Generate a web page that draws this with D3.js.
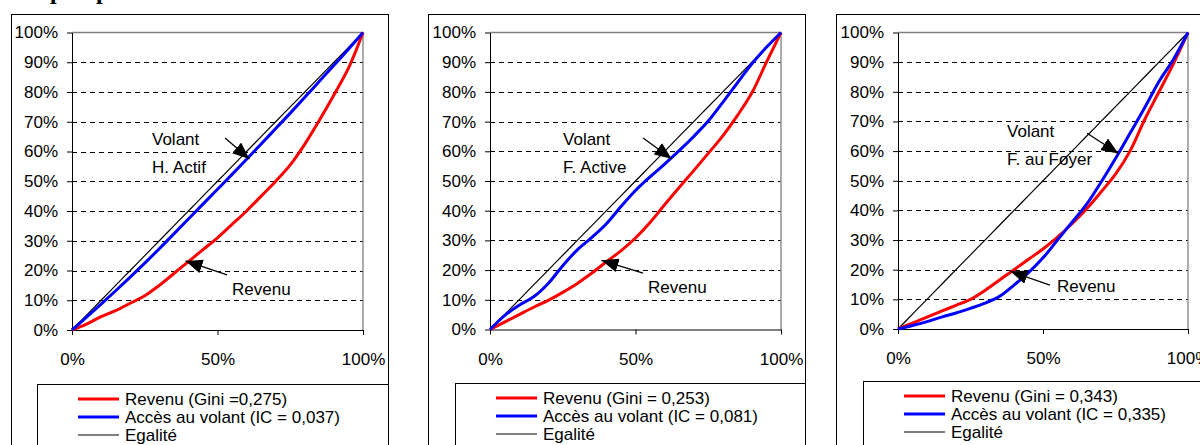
<!DOCTYPE html>
<html>
<head>
<meta charset="utf-8">
<script src="https://cdn.jsdelivr.net/npm/d3@7"></script>
<style>
  body { margin: 0; background: #fff; }
  svg { display: block; font-family: "Liberation Sans", Arial, sans-serif; }
</style>
</head>
<body>
<svg id="chart" width="1200" height="445"></svg>
<script>
// population share (x) for every curve
const shares = [0, 0.05, 0.1, 0.15, 0.2, 0.25, 0.3, 0.35, 0.4, 0.45, 0.5,
  0.55, 0.6, 0.65, 0.7, 0.75, 0.8, 0.85, 0.9, 0.95, 1]

// H. Actif
const revenuHActif = [0, 0.02, 0.045, 0.065, 0.09, 0.115, 0.15, 0.19, 0.23, 0.27, 0.31,
  0.355, 0.40, 0.45, 0.50, 0.555, 0.625, 0.705, 0.79, 0.88, 1]
const volantHActif = [0, 0.043, 0.087, 0.132, 0.178, 0.225, 0.273, 0.323, 0.373, 0.423, 0.473,
  0.523, 0.574, 0.625, 0.677, 0.729, 0.782, 0.836, 0.89, 0.944, 1]

// F. Active
const revenuFActive = [0, 0.025, 0.05, 0.075, 0.098, 0.125, 0.155, 0.19, 0.228, 0.265, 0.308,
  0.36, 0.42, 0.478, 0.535, 0.593, 0.652, 0.72, 0.797, 0.90, 1]
const volantFActive = [0, 0.047, 0.082, 0.11, 0.155, 0.215, 0.268, 0.31, 0.356, 0.414, 0.468,
  0.514, 0.557, 0.602, 0.65, 0.702, 0.765, 0.83, 0.895, 0.95, 1]

// F. au Foyer
const revenuFFoyer = [0, 0.02, 0.04, 0.06, 0.08, 0.10, 0.13, 0.165, 0.20, 0.235, 0.27,
  0.31, 0.355, 0.405, 0.462, 0.522, 0.60, 0.705, 0.80, 0.895, 1]
const volantFFoyer = [0, 0.012, 0.025, 0.04, 0.054, 0.07, 0.087, 0.11, 0.148, 0.19, 0.24,
  0.30, 0.36, 0.42, 0.495, 0.575, 0.66, 0.745, 0.835, 0.91, 1]

const legendLabels = [
  ['Revenu (Gini =0,275)', 'Accès au volant (IC = 0,037)', 'Egalité'],
  ['Revenu (Gini = 0,253)', 'Accès au volant (IC = 0,081)', 'Egalité'],
  ['Revenu (Gini = 0,343)', 'Accès au volant (IC = 0,335)', 'Egalité']
]
const volantLabels = [['Volant', 'H. Actif'], ['Volant', 'F. Active'], ['Volant', 'F. au Foyer']]
const revenuLabel = 'Revenu'
const yTicks = [0, 0.1, 0.2, 0.3, 0.4, 0.5, 0.6, 0.7, 0.8, 0.9, 1]
const xTicks = [0, 0.5, 1]
const titleBits = ['p', 'p']

const colors = { revenu: '#ff0000', volant: '#0000ff', egalite: '#000000' }

// layout of each panel (pixels) and annotation anchors (data units)
const panels = [
  {
    box: [11, 388], plot: [72, 363, 32.5, 330], legendTop: 384, legendLeft: 37,
    revenu: revenuHActif, volant: volantHActif,
    volantText: [0.275, 0.622, 0.528], volantArrow: [0.526, 0.645, 0.61, 0.575],
    revenuText: [0.55, 0.118], revenuArrow: [0.533, 0.185, 0.39, 0.232]
  },
  {
    box: [428, 805], plot: [490, 781, 32.5, 329.5], legendTop: 383, legendLeft: 455,
    revenu: revenuFActive, volant: volantFActive,
    volantText: [0.251, 0.622, 0.528], volantArrow: [0.526, 0.645, 0.624, 0.575],
    revenuText: [0.543, 0.124], revenuArrow: [0.526, 0.19, 0.383, 0.233]
  },
  {
    box: [836, 1215], plot: [898, 1188, 32.5, 329], legendTop: 381, legendLeft: 863,
    revenu: revenuFFoyer, volant: volantFFoyer,
    volantText: [0.376, 0.646, 0.552], volantArrow: [0.652, 0.66, 0.76, 0.592],
    revenuText: [0.548, 0.125], revenuArrow: [0.524, 0.148, 0.388, 0.194]
  }
]

const svg = d3.select('#chart')
svg.append('rect').attr('width', 1200).attr('height', 445).attr('fill', '#fff')

const defs = svg.append('defs')
defs.append('marker')
  .attr('id', 'head')
  .attr('viewBox', '0 0 17 14')
  .attr('refX', 17).attr('refY', 7)
  .attr('markerWidth', 17).attr('markerHeight', 14)
  .attr('markerUnits', 'userSpaceOnUse')
  .attr('orient', 'auto')
  .append('path').attr('d', 'M0,0L17,7L0,14Z').attr('fill', '#000')

// cut-off title above the charts
svg.selectAll('text.title')
  .data(titleBits)
  .enter()
  .append('text')
  .attr('class', 'title')
  .attr('x', (d, i) => [50, 96][i])
  .attr('y', -1)
  .attr('font-family', '"Liberation Serif", serif')
  .attr('font-weight', 'bold')
  .attr('font-size', 24)
  .text(d => d)

const fontSize = 17

panels.forEach((p, idx) => {
  const [left, right, top, bottom] = p.plot
  const x = d3.scaleLinear().domain([0, 1]).range([left, right])
  const y = d3.scaleLinear().domain([0, 1]).range([bottom, top])
  const g = svg.append('g')

  // outer frame
  g.append('rect')
    .attr('x', p.box[0] + 0.5).attr('y', 14.5)
    .attr('width', p.box[1] - p.box[0]).attr('height', 500)
    .attr('fill', 'none').attr('stroke', '#000')

  // grid
  g.selectAll('line.grid')
    .data(yTicks.filter(t => t > 0 && t < 1))
    .enter()
    .append('line')
    .attr('x1', left).attr('x2', right)
    .attr('y1', d => Math.round(y(d)) + 0.5).attr('y2', d => Math.round(y(d)) + 0.5)
    .attr('stroke', '#000')
    .attr('stroke-dasharray', '5,4')

  // gray frame of the plot area (top and right)
  g.append('path')
    .attr('d', `M${left},${y(1)}H${right}V${bottom}`)
    .attr('fill', 'none').attr('stroke', '#808080').attr('stroke-width', 1.3)

  const yAxis = g.append('g')
    .attr('transform', `translate(${left},0)`)
    .call(d3.axisLeft(y).tickValues(yTicks).tickSize(5).tickSizeOuter(0).tickPadding(9)
      .tickFormat(d3.format('.0%')))
  const xAxis = g.append('g')
    .attr('transform', `translate(0,${bottom})`)
    .call(d3.axisBottom(x).tickValues(xTicks).tickSize(5).tickSizeOuter(0).tickPadding(18)
      .tickFormat(d3.format('.0%')))
  for (const ax of [yAxis, xAxis]) {
    ax.attr('font-family', null).attr('font-size', fontSize)
    ax.selectAll('text').attr('fill', '#000')
    ax.selectAll('line, path').attr('stroke', '#000')
  }

  const line = d3.line()
    .x((d, i) => x(shares[i]))
    .y(d => y(d))
    .curve(d3.curveCatmullRom.alpha(0.5))

  g.append('path').datum(shares).attr('d', line)
    .attr('fill', 'none').attr('stroke', colors.egalite).attr('stroke-width', 1.2)
  g.append('path').datum(p.revenu).attr('d', line)
    .attr('fill', 'none').attr('stroke', colors.revenu).attr('stroke-width', 3)
  g.append('path').datum(p.volant).attr('d', line)
    .attr('fill', 'none').attr('stroke', colors.volant).attr('stroke-width', 3)

  // annotations
  const vt = p.volantText
  volantLabels[idx].forEach((t, i) => {
    g.append('text').attr('x', x(vt[0])).attr('y', y(vt[1 + i]))
      .attr('font-size', fontSize).text(t)
  })
  g.append('text').attr('x', x(p.revenuText[0])).attr('y', y(p.revenuText[1]))
    .attr('font-size', fontSize).text(revenuLabel)

  for (const a of [p.volantArrow, p.revenuArrow]) {
    g.append('line')
      .attr('x1', x(a[0])).attr('y1', y(a[1]))
      .attr('x2', x(a[2])).attr('y2', y(a[3]))
      .attr('stroke', '#000').attr('stroke-width', 1.3)
      .attr('marker-end', 'url(#head)')
  }

  // legend
  const lg = g.append('g')
  lg.append('rect')
    .attr('x', p.legendLeft + 0.5).attr('y', p.legendTop + 0.5)
    .attr('width', p.box[1] - p.legendLeft).attr('height', 200)
    .attr('fill', '#fff').attr('stroke', '#000')
  const keys = [
    { color: colors.revenu, width: 3 },
    { color: colors.volant, width: 3 },
    { color: colors.egalite, width: 1.2 }
  ]
  const lx = p.legendLeft + 41
  keys.forEach((k, i) => {
    const ly = p.legendTop + 15 + i * 18
    lg.append('line').attr('x1', lx).attr('x2', lx + 41).attr('y1', ly).attr('y2', ly)
      .attr('stroke', k.color).attr('stroke-width', k.width)
    lg.append('text').attr('x', lx + 47).attr('y', ly).attr('dy', '0.35em')
      .attr('font-size', fontSize).text(legendLabels[idx][i])
  })
})
</script>
</body>
</html>
